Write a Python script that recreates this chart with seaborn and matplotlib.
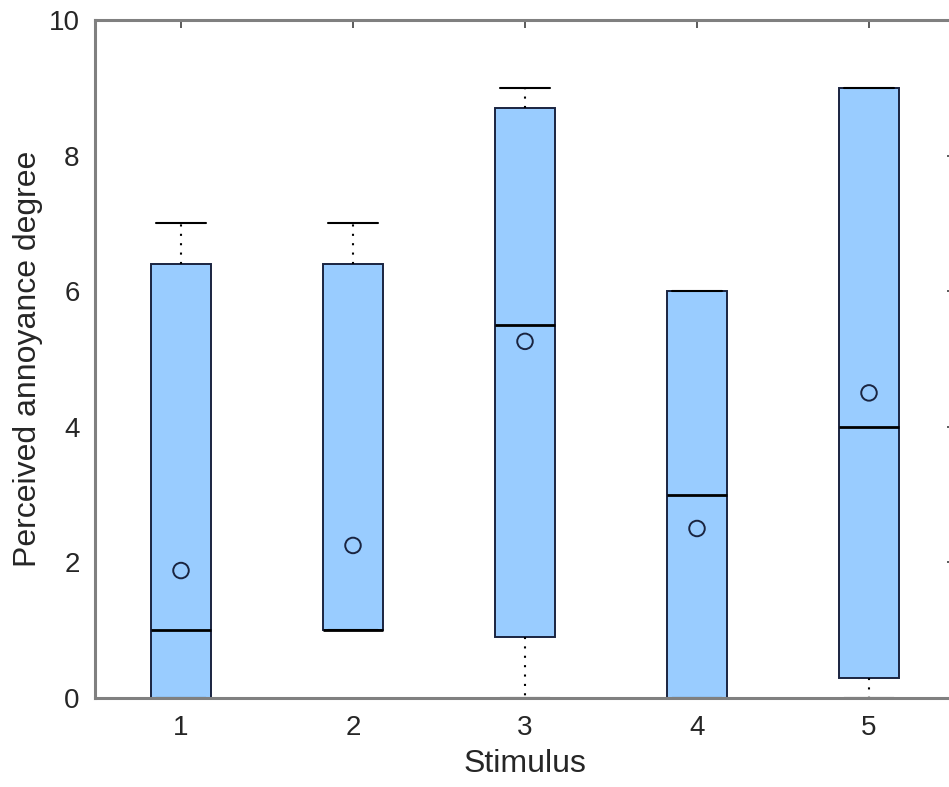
import matplotlib
matplotlib.use("Agg")
import matplotlib.pyplot as plt
import seaborn as sns
import pandas as pd

# Data
stimuli = [1, 2, 3, 4, 5]
q1 = [0.0, 1.0, 0.9, 0.0, 0.3]
medians = [1.0, 1.0, 5.5, 3.0, 4.0]
q3 = [6.4, 6.4, 8.7, 6.0, 9.0]
whisker_low = [0.0, 1.0, 0.0, 0.0, 0.0]
whisker_high = [7.0, 7.0, 9.0, 6.0, 9.0]
means = [1.88, 2.25, 5.26, 2.5, 4.5]
yticks = [0, 2, 4, 6, 8, 10]

sns.set_style("white")
plt.rcParams['font.family'] = ['Liberation Sans', 'DejaVu Sans']

fig = plt.figure(figsize=(9.49, 7.87), dpi=100)
ax = fig.add_axes([95/949, 1-698/787, (955-95)/949, (698-20)/787])

stats = []
for i in range(len(stimuli)):
    stats.append(dict(med=medians[i], q1=q1[i], q3=q3[i],
                      whislo=whisker_low[i], whishi=whisker_high[i],
                      fliers=[], label=str(stimuli[i])))

edge = '#1a2440'
ax.bxp(stats, positions=stimuli, widths=0.35, capwidths=0.29,
       patch_artist=True, showfliers=False,
       boxprops=dict(facecolor='#99ccff', edgecolor=edge, linewidth=1.4),
       whiskerprops=dict(color='black', linewidth=1.5, linestyle=(0, (1, 3.5))),
       capprops=dict(color='black', linewidth=1.5),
       medianprops=dict(color='black', linewidth=2))

df = pd.DataFrame({'stimulus': stimuli, 'mean': means})
sns.scatterplot(data=df, x='stimulus', y='mean', ax=ax, marker='o', s=125,
                facecolor='none', edgecolor=edge, linewidth=1.4, zorder=5)

ax.set_xlim(0.5, 5.5)
ax.set_ylim(0, 10)
ax.set_xticks(stimuli)
ax.set_xticklabels([str(s) for s in stimuli])
ax.set_yticks(yticks)

txtc = '#262626'
spc = '#808080'
for s in ax.spines.values():
    s.set_color(spc)
    s.set_linewidth(2.2)
    s.set_visible(True)
    s.set_zorder(10)
ax.tick_params(direction='in', top=True, right=True, length=6, width=1.2,
               color='#404040', labelsize=20, labelcolor=txtc, pad=12)
ax.tick_params(axis='y', pad=11)
ax.set_xlabel('Stimulus', fontsize=23, color=txtc, labelpad=6)
ax.set_ylabel('Perceived annoyance degree', fontsize=23, color=txtc, labelpad=4)

fig.savefig('out.png', dpi=100)
